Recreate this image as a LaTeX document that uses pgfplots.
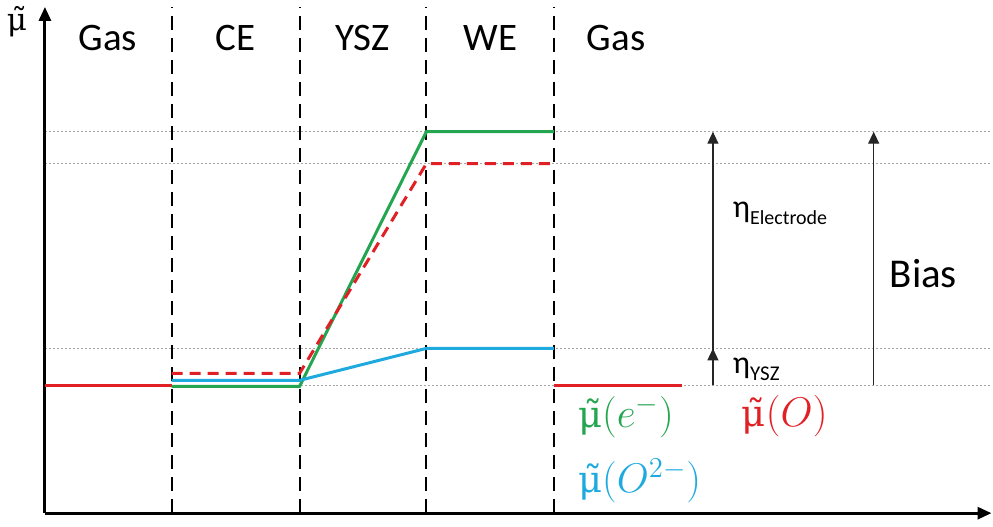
\documentclass[border=0pt]{standalone}
\usepackage{fontspec}
\setmainfont{Carlito}
\newfontfamily\mufont{DejaVu Serif}
\usepackage{pgfplots}
\pgfplotsset{compat=1.18}
\usetikzlibrary{arrows.meta}
\definecolor{egreen}{RGB}{36,165,80}
\definecolor{ored}{RGB}{224,32,36}
\definecolor{iblue}{RGB}{30,170,222}
% electrochemical potential symbol (mu with tilde)
\newcommand{\mut}[1]{{\mufont\fontsize{#1}{#1}\selectfont μ̃}}

\begin{document}
\begin{tikzpicture}[region/.style={font=\fontsize{19.5}{22}\selectfont}]
\begin{axis}[
  scale only axis, width=474pt, height=253.5pt,
  xmin=45, xmax=993, ymin=10, ymax=517,
  axis lines=left,
  axis line style={line width=1.5pt, -{Triangle[length=7pt,width=6pt]}},
  xtick={172,300,427,555}, ytick={138,175,360,392},
  xticklabels={}, yticklabels={}, major tick length=0pt,
  xmajorgrids, ymajorgrids,
  x grid style={black, line width=1pt, dash pattern=on 7pt off 4pt},
  y grid style={black!35, line width=0.5pt, dash pattern=on 1pt off 1pt},
  clip=false,
]
% gas-phase oxygen potential
\addplot[ored, line width=1.5pt] coordinates {(45,138) (172,138)};
\addplot[ored, line width=1.5pt] coordinates {(555,138) (683,138)};
% electrons
\addplot[egreen, line width=1.5pt] coordinates {(172,137) (300,137) (427,392) (555,392)};
% oxide ions
\addplot[iblue, line width=1.5pt] coordinates {(172,143) (300,143) (427,175) (555,175)};
% oxygen
\addplot[ored, line width=1.5pt, dash pattern=on 5.5pt off 3.5pt] coordinates {(172,150) (300,150) (427,360) (555,360)};

% overpotential arrows
\draw[line width=0.7pt, black!85, -{Triangle[length=6pt,width=5.5pt]}] (axis cs:714,138) -- (axis cs:714,392);
\draw[line width=0.7pt, black!85, -{Triangle[length=6pt,width=5.5pt]}] (axis cs:714,138) -- (axis cs:714,175);
\draw[line width=0.7pt, black!85, -{Triangle[length=6pt,width=5.5pt]}] (axis cs:875,138) -- (axis cs:875,392);

% region names
\node[region] at (axis cs:108,486) {Gas};
\node[region] at (axis cs:236,486) {CE};
\node[region] at (axis cs:363,486) {YSZ};
\node[region] at (axis cs:491,486) {WE};
\node[region] at (axis cs:617,486) {Gas};

\node at (axis cs:17,502) {\mut{15.5}};
\node[anchor=west, font=\fontsize{16}{19}\selectfont] at (axis cs:727,310) {η\raisebox{-0.45ex}{\fontsize{10}{12}\selectfont Electrode}};
\node[anchor=west, font=\fontsize{16}{19}\selectfont] at (axis cs:727,154) {η\raisebox{-0.45ex}{\fontsize{10.5}{12}\selectfont YSZ}};
\node[anchor=west, font=\fontsize{20.5}{24}\selectfont] at (axis cs:884,250) {Bias};

\node[anchor=west, text=egreen, font=\fontsize{21}{24}\selectfont] at (axis cs:572,107) {\mut{18.5}$(e^{-})$};
\node[anchor=west, text=ored, font=\fontsize{21}{24}\selectfont] at (axis cs:736,107) {\mut{18.5}$(O)$};
\node[anchor=west, text=iblue, font=\fontsize{21}{24}\selectfont] at (axis cs:572,42) {\mut{18.5}$(O^{2-})$};

\path (axis cs:0,0) rectangle (axis cs:993,522);
\end{axis}
\end{tikzpicture}
\end{document}
